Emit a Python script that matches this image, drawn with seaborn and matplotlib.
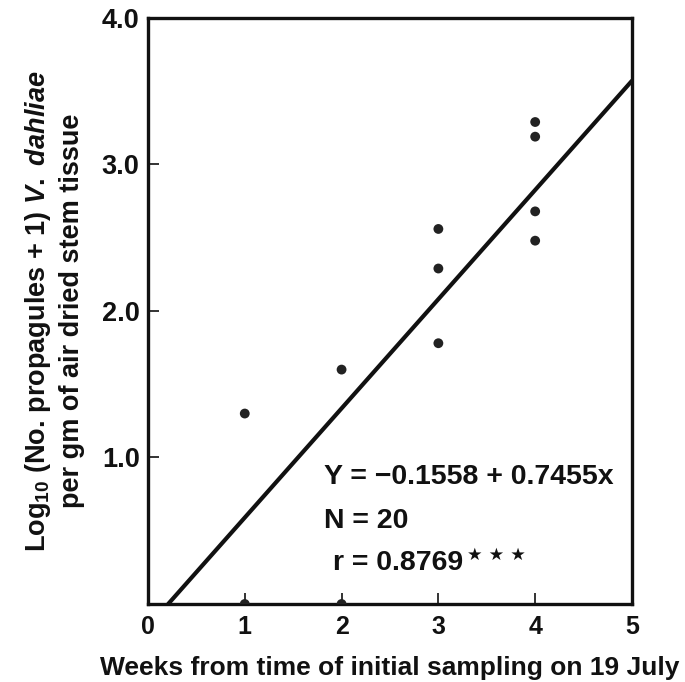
import numpy as np
import pandas as pd
import matplotlib
matplotlib.use('Agg')
import matplotlib.pyplot as plt
import seaborn as sns

# data
weeks = [1, 1, 2, 2, 3, 3, 3, 4, 4, 4, 4]
log_propagules = [1.30, 0.0, 1.60, 0.0, 2.56, 2.29, 1.78, 3.29, 3.19, 2.68, 2.48]

# regression given on the chart
intercept = -0.1558
slope = 0.7455
n_obs = 20
r_value = 0.8769

x_ticks = [0, 1, 2, 3, 4, 5]
y_ticks = [1, 2, 3, 4]
y_tick_labels = ['1.0', '2.0', '3.0', '4.0']

sns.set_style('ticks')
plt.rcParams['font.family'] = ['Liberation Sans', 'DejaVu Sans']
plt.rcParams['font.weight'] = 'bold'
plt.rcParams['mathtext.fontset'] = 'custom'
plt.rcParams['mathtext.rm'] = 'Liberation Sans:bold'
plt.rcParams['mathtext.it'] = 'Liberation Sans:bold:italic'

df = pd.DataFrame({'week': weeks, 'value': log_propagules})

# fitted line from where it crosses zero to the right edge
x0 = -intercept / slope
line_x = np.array([x0, 5.0])
line_df = pd.DataFrame({'week': line_x, 'value': intercept + slope * line_x})

fig = plt.figure(figsize=(6.85, 6.82), dpi=100)
ax = fig.add_axes([0.216, 0.1144, 0.7066, 0.8592])

sns.lineplot(data=line_df, x='week', y='value', ax=ax, color='#111111', lw=3.0)
sns.scatterplot(data=df, x='week', y='value', ax=ax, color='#222222', s=50,
                edgecolor='none', zorder=5)

ax.set_xlim(0, 5)
ax.set_ylim(0, 4)
ax.set_xticks(x_ticks)
ax.set_xticklabels([str(t) for t in x_ticks])
ax.set_yticks(y_ticks)
ax.set_yticklabels(y_tick_labels)
ax.tick_params(direction='in', length=8, width=1.2, colors='#111111')
ax.tick_params(axis='x', labelsize=18, pad=8)
ax.tick_params(axis='y', labelsize=19.5, pad=6)

for sp in ax.spines.values():
    sp.set_linewidth(2.4)
    sp.set_color('#111111')

ax.set_xlabel('Weeks from time of initial sampling on 19 July', fontsize=19,
              fontweight='bold', labelpad=12, color='#111111')
ax.set_ylabel('Log$_{10}$ (No. propagules + 1) $\\it{V.\\ dahliae}$\nper gm of air dried stem tissue',
              fontsize=19.5, fontweight='bold', labelpad=12, color='#111111', linespacing=1.3)

txt_kw = dict(fontsize=20.5, fontweight='bold', color='#111111')
ax.text(1.82, 0.82, f'Y = \u2212{abs(intercept):.4f} + {slope:.4f}x', **txt_kw)
ax.text(1.82, 0.52, f'N = {n_obs}', **txt_kw)
ax.text(1.91, 0.23, f'r = {r_value:.4f}', **txt_kw)
ax.text(3.30, 0.30, '\u2605 \u2605 \u2605', fontsize=12.5, color='#111111',
        family=['DejaVu Sans'])

fig.savefig('out.png', dpi=100)
